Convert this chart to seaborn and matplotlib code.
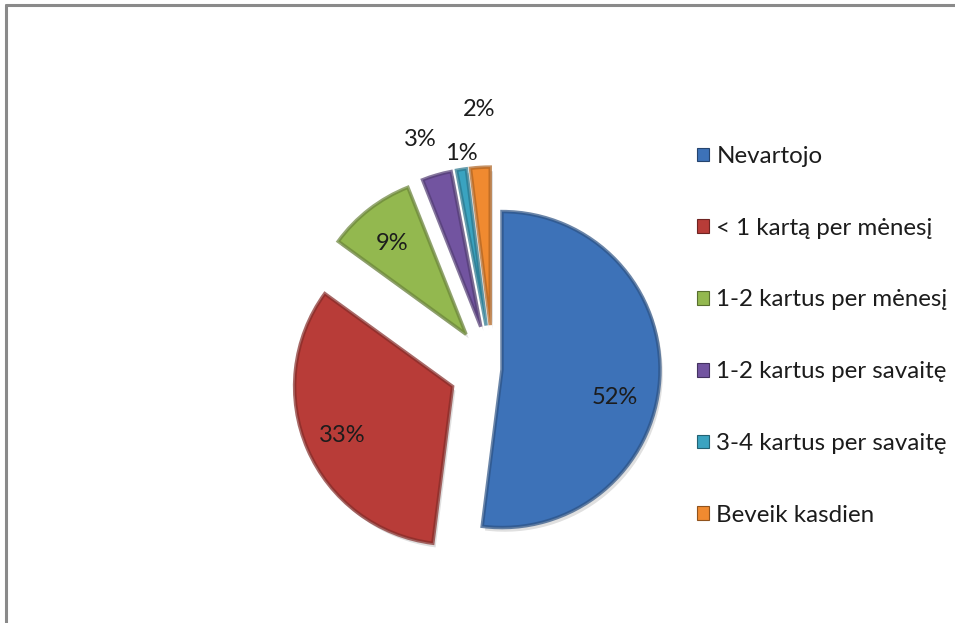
import matplotlib
matplotlib.use("Agg")
import matplotlib.pyplot as plt
import matplotlib.patches as mpatches
import matplotlib.patheffects as pe
from matplotlib.colors import to_rgb
from matplotlib.lines import Line2D
import seaborn as sns

# Survey answers: how often the product is used
categories = [
    "Nevartojo",
    "< 1 kartą per mėnesį",
    "1-2 kartus per mėnesį",
    "1-2 kartus per savaitę",
    "3-4 kartus per savaitę",
    "Beveik kasdien",
]
shares = [52, 33, 9, 3, 1, 2]

palette = ["#3d72b8", "#b83c38", "#93b84f", "#7254a0", "#3aa3c0", "#f08a30"]

# Layout (pixel space of a 955x623 canvas, y measured from the top)
W, H = 955, 623
pie_center = (493, 369)
pie_radius = 158
slice_offsets = [9, 44, 44, 44, 44, 44]
label_xy = [(615, 398), (342, 436), (392, 243), (420, 139), (461, 154), (479, 110)]


def darker(c, f=0.7):
    r, g, b = to_rgb(c)
    return (r * f, g * f, b * f)


sns.set_theme(style="white")
plt.rcParams["font.family"] = ["Lato", "DejaVu Sans"]

fig = plt.figure(figsize=(W / 100, H / 100), dpi=100)
ax = fig.add_axes([0, 0, 1, 1])

wedges, _ = ax.pie(
    shares,
    colors=palette,
    startangle=90,
    counterclock=False,
    radius=pie_radius,
    center=(pie_center[0], H - pie_center[1]),
    explode=slice_offsets,
    frame=True,
    wedgeprops=dict(linewidth=0),
)
ax.set_xlim(0, W)
ax.set_ylim(0, H)
ax.set_aspect("equal")
ax.axis("off")

# soft bevel + drop shadow on each slice
for w, c in zip(wedges, palette):
    w.set_path_effects([
        pe.SimplePatchShadow(offset=(2, -3), shadow_rgbFace="#000000", alpha=0.12),
        pe.Normal(),
    ])
    rim = mpatches.Wedge(w.center, w.r, w.theta1, w.theta2, facecolor="none",
                         edgecolor=darker(c, 0.72), linewidth=2.5,
                         alpha=0.7, zorder=w.get_zorder() + 0.1)
    ax.add_patch(rim)

for v, (lx, ly) in zip(shares, label_xy):
    ax.text(lx, H - ly, f"{v}%", ha="center", va="center", fontsize=17, color="#1c1c1c")

handles = [mpatches.Patch(facecolor=c, edgecolor=darker(c, 0.6), linewidth=0.8)
           for c in palette]
leg = fig.legend(
    handles, categories,
    loc="upper left", bbox_to_anchor=(697 / W, 1 - 146 / H),
    frameon=False, fontsize=17.4,
    handlelength=0.5, handleheight=0.5, handletextpad=0.3,
    labelspacing=2.1, borderpad=0, borderaxespad=0,
)
for t in leg.get_texts():
    t.set_color("#1c1c1c")

# chart area border (top and left edges)
fig.add_artist(Line2D([6 / W, 1], [1 - 5 / H, 1 - 5 / H], color="#8a8a8a", linewidth=2.2))
fig.add_artist(Line2D([6 / W, 6 / W], [0, 1 - 5 / H], color="#8a8a8a", linewidth=2.2))

fig.savefig("out.png", dpi=100, facecolor="white")
